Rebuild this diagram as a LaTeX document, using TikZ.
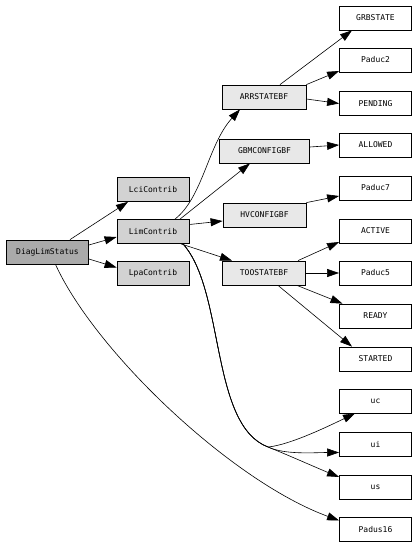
\documentclass[tikz,border=0pt]{standalone}
\usepackage{fontspec}
\newfontfamily\diagfont{DejaVu Sans Mono}
\usetikzlibrary{arrows.meta}

\tikzset{
  caja/.style={draw, line width=0.8pt, minimum height=24pt, inner sep=0pt,
    font=\diagfont\fontsize{8}{9}\selectfont},
  raiz/.style={caja, fill=gray!67, minimum width=82pt},
  nivel1/.style={caja, fill=gray!35, minimum width=72pt},
  nivel2/.style={caja, fill=gray!18},
  hoja/.style={caja, fill=white, minimum width=72pt},
  flecha/.style={line width=0.6pt, -{Triangle[length=12pt,width=8pt]}}
}

\begin{document}
\begin{tikzpicture}[x=1pt, y=-1pt]
        % Marco
        \useasboundingbox (0,0) rectangle (416,546);

        % Nodo raiz y primer nivel
        \node[raiz] (DiagLimStatus) at (47.5,252) {DiagLimStatus};
        \node[nivel1] (LciContrib) at (153,189.5) {LciContrib};
        \node[nivel1] (LimContrib) at (153,231.5) {LimContrib};
        \node[nivel1] (LpaContrib) at (153,273.5) {LpaContrib};

        % Segundo nivel
        \node[nivel2, minimum width=84pt] (ARRSTATEBF) at (264,97) {ARRSTATEBF};
        \node[nivel2, minimum width=90pt] (GBMCONFIGBF) at (264.5,151) {GBMCONFIGBF};
        \node[nivel2, minimum width=83pt] (HVCONFIGBF) at (264.5,215) {HVCONFIGBF};
        \node[nivel2, minimum width=83pt] (TOOSTATEBF) at (264,273) {TOOSTATEBF};

        % Columna de hojas
        \foreach \nombre/\fila in {GRBSTATE/18, Paduc2/60, PENDING/103.5, ALLOWED/145,
            Paduc7/188, ACTIVE/231, Paduc5/273, READY/316, STARTED/359,
            uc/401, ui/444.5, us/487, Padus16/529.5}
          \node[hoja] (\nombre) at (375.5,\fila) {\nombre};

        % Flechas desde la raiz
        \draw[flecha] ([xshift=22.5]DiagLimStatus.north) -- ([xshift=-25]LciContrib.south);
        \draw[flecha] ([yshift=7]DiagLimStatus.east) -- ([yshift=-5.5]LimContrib.west);
        \draw[flecha] ([yshift=-7]DiagLimStatus.east) -- ([yshift=6]LpaContrib.west);
        \draw[flecha] ([xshift=8]DiagLimStatus.south)
          .. controls +(39,86) and +(-109,-40) .. ([yshift=9]Padus16.west);

        % Flechas desde LimContrib
        \draw[flecha] ([xshift=22]LimContrib.north)
          .. controls +(28,-22) and +(-32,35) .. ([xshift=-24]ARRSTATEBF.south);
        \draw[flecha] ([xshift=27]LimContrib.north) -- ([xshift=-14.5]GBMCONFIGBF.south);
        \draw[flecha] ([yshift=7]LimContrib.east) -- ([yshift=-6]HVCONFIGBF.west);
        \draw[flecha] ([xshift=28]LimContrib.south) -- ([xshift=-32]TOOSTATEBF.north);

        % Tronco comun hacia uc, ui, us
        \coordinate (enlace) at (268,447);
        \draw[flecha] ([xshift=30]LimContrib.south)
          .. controls +(42,47) and +(-58,-22) .. (enlace)
          .. controls +(22,-2) and +(-25,12) .. ([xshift=-20.5]uc.south);
        \draw[flecha] ([xshift=30]LimContrib.south)
          .. controls +(42,47) and +(-58,-22) .. (enlace)
          .. controls +(17,8) and +(-24,0) .. ([yshift=-8]ui.west);
        \draw[flecha] ([xshift=30]LimContrib.south)
          .. controls +(42,47) and +(-58,-22) .. (enlace)
          .. controls +(20,8) and +(-22,-9) .. ([yshift=10]us.west);

        % Flechas del segundo nivel
        \draw[flecha] ([xshift=16]ARRSTATEBF.north) -- ([xshift=-23.5]GRBSTATE.south);
        \draw[flecha] (ARRSTATEBF.north east) -- ([yshift=-11]Paduc2.west);
        \draw[flecha] ([yshift=-2]ARRSTATEBF.east) -- (PENDING.west);
        \draw[flecha] ([yshift=4]GBMCONFIGBF.east) -- (ALLOWED.west);
        \draw[flecha] (HVCONFIGBF.north east) -- ([yshift=-8]Paduc7.west);
        \draw[flecha] ([xshift=34]TOOSTATEBF.north) -- ([yshift=-11]ACTIVE.west);
        \draw[flecha] (TOOSTATEBF.east) -- (Paduc5.west);
        \draw[flecha] ([xshift=33]TOOSTATEBF.south) -- ([xshift=-33]READY.north);
        \draw[flecha] ([xshift=14]TOOSTATEBF.south) -- ([xshift=-23.5]STARTED.north);
    \end{tikzpicture}
\end{document}
